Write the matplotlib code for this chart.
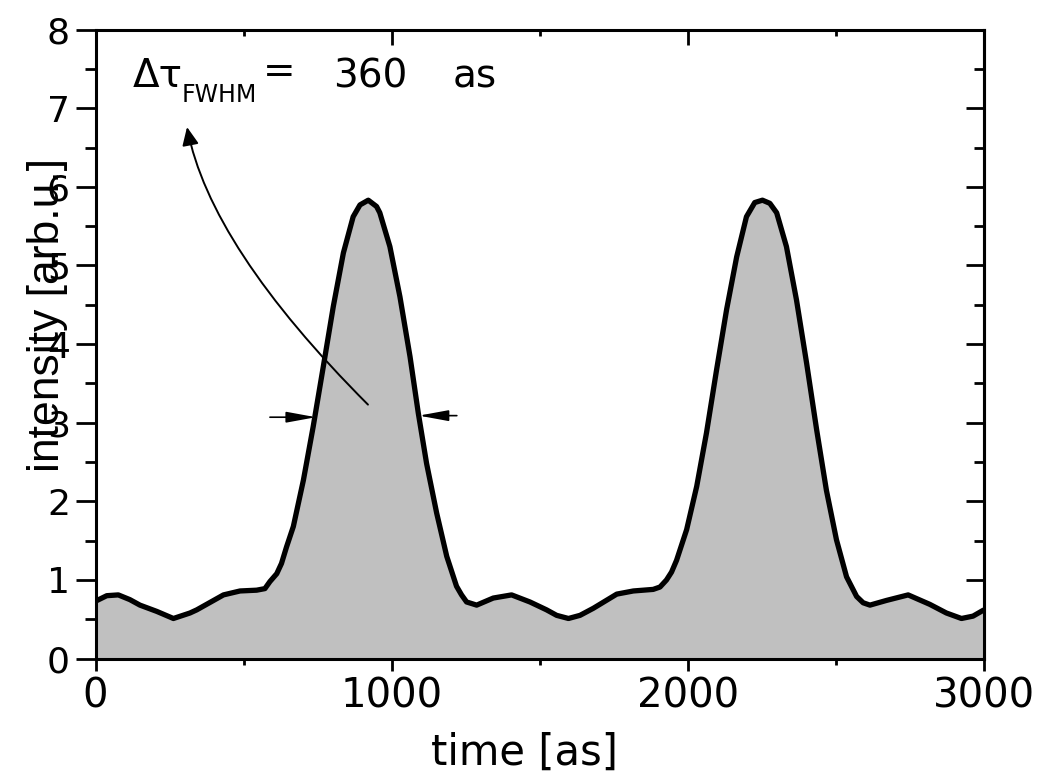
import matplotlib
matplotlib.use("Agg")
import matplotlib.pyplot as plt
from matplotlib.patches import FancyArrowPatch
from matplotlib.path import Path

plt.rcParams['font.family'] = ['DejaVu Sans']

# pulse train
time_as = [0, 38, 77, 116, 150, 207, 263, 319, 342, 432, 488, 544, 572, 589, 612, 628,
           645, 668, 702, 735, 769, 803, 837, 870, 893, 921, 949, 960, 994, 1028, 1062,
           1090, 1118, 1152, 1186, 1219, 1236, 1253, 1287, 1343, 1405, 1467, 1523, 1557,
           1597, 1636, 1681, 1760, 1816, 1883, 1906, 1928, 1945, 1962, 1996, 2030, 2063,
           2097, 2131, 2165, 2198, 2226, 2252, 2277, 2300, 2333, 2367, 2401, 2435, 2468,
           2502, 2536, 2570, 2592, 2615, 2671, 2744, 2817, 2873, 2924, 2963, 3000]
intensity = [0.73, 0.80, 0.81, 0.75, 0.68, 0.60, 0.51, 0.58, 0.62, 0.81, 0.86, 0.87,
             0.89, 0.98, 1.08, 1.21, 1.42, 1.68, 2.27, 2.95, 3.71, 4.48, 5.16, 5.62,
             5.77, 5.83, 5.75, 5.67, 5.24, 4.60, 3.84, 3.12, 2.48, 1.85, 1.30, 0.92,
             0.81, 0.72, 0.68, 0.77, 0.81, 0.72, 0.62, 0.55, 0.51, 0.55, 0.64, 0.82,
             0.86, 0.88, 0.91, 1.00, 1.10, 1.25, 1.64, 2.19, 2.87, 3.67, 4.44, 5.11,
             5.62, 5.80, 5.83, 5.79, 5.67, 5.24, 4.56, 3.76, 2.91, 2.14, 1.51, 1.04,
             0.79, 0.71, 0.68, 0.74, 0.81, 0.69, 0.58, 0.51, 0.54, 0.62]

x_ticks = [0, 1000, 2000, 3000]
y_ticks = [0, 1, 2, 3, 4, 5, 6, 7, 8]

# annotation anchors (data coords)
fwhm_level = 3.07
fwhm_left = (589, 744)
fwhm_right = (1220, 1092)
curve_pts = [(920, 3.23), (387, 5.24), (309, 6.76)]

fig = plt.figure(figsize=(10.45, 7.76), dpi=100)
ax = fig.add_axes([0.0914, 0.1513, 0.8502, 0.8106])

ax.fill_between(time_as, intensity, 0, color='#c0c0c0', lw=0, zorder=1)
ax.plot(time_as, intensity, color='black', lw=3.8, zorder=2,
        solid_joinstyle='round', solid_capstyle='butt')

ax.set_xlim(0, 3000)
ax.set_ylim(0, 8)
ax.set_xticks(x_ticks)
ax.set_yticks(y_ticks)
ax.set_xticks([500, 1500, 2500], minor=True)
ax.set_yticks([v + 0.5 for v in y_ticks[:-1]], minor=True)

for s in ax.spines.values():
    s.set_linewidth(2.2)

ax.tick_params(axis='x', which='major', direction='out', length=8.6, width=2, labelsize=29, pad=4)
ax.tick_params(axis='x', which='minor', direction='out', length=4, width=2)
ax.tick_params(axis='y', which='major', direction='out', length=14.4, width=2, labelsize=26, pad=4)
ax.tick_params(axis='y', which='minor', direction='out', length=8, width=2)

# top and right ticks point inward
top = ax.secondary_xaxis('top')
top.set_xticks(x_ticks)
top.set_xticks([500, 1500, 2500], minor=True)
top.tick_params(which='major', direction='in', length=10.8, width=2, labeltop=False)
top.tick_params(which='minor', direction='in', length=4.5, width=2)
top.spines['top'].set_linewidth(2)

right = ax.secondary_yaxis('right')
right.set_yticks(y_ticks)
right.set_yticks([v + 0.5 for v in y_ticks[:-1]], minor=True)
right.tick_params(which='major', direction='in', length=13, width=2, labelright=False)
right.tick_params(which='minor', direction='in', length=7.2, width=2)
right.spines['right'].set_linewidth(2.2)

ax.set_xlabel('time [as]', fontsize=30)
ax.xaxis.set_label_coords(0.483, -0.116)
ax.set_ylabel('intensity [arb.u.]', fontsize=32, family=['Liberation Sans'])
ax.yaxis.set_label_coords(-0.031, 0.546)

# FWHM markers
ax.annotate('', xy=(fwhm_left[1], fwhm_level), xytext=(fwhm_left[0], fwhm_level),
            arrowprops=dict(arrowstyle='-|>,head_length=1.8,head_width=0.33',
                            mutation_scale=10, lw=1.2, color='black', shrinkA=0, shrinkB=0))
ax.annotate('', xy=(fwhm_right[1], fwhm_level + 0.02), xytext=(fwhm_right[0], fwhm_level + 0.02),
            arrowprops=dict(arrowstyle='-|>,head_length=1.8,head_width=0.33',
                            mutation_scale=10, lw=1.2, color='black', shrinkA=0, shrinkB=0))

curve = Path(curve_pts, [Path.MOVETO, Path.CURVE3, Path.CURVE3])
ax.add_patch(FancyArrowPatch(path=curve, arrowstyle='-|>,head_length=0.55,head_width=0.25',
                             mutation_scale=20, lw=1.4, color='black', zorder=3))

ax.text(125, 7.27, 'Δτ', fontsize=28, va='baseline', ha='left')
ax.text(290, 7.08, 'FWHM', fontsize=17, va='baseline', ha='left')
ax.text(619, 7.32, '=', fontsize=28, va='baseline', ha='center')
ax.text(927, 7.26, '360', fontsize=28, va='baseline', ha='center')
ax.text(1281, 7.26, 'as', fontsize=28, va='baseline', ha='center')

fig.savefig('out.png', dpi=100)
